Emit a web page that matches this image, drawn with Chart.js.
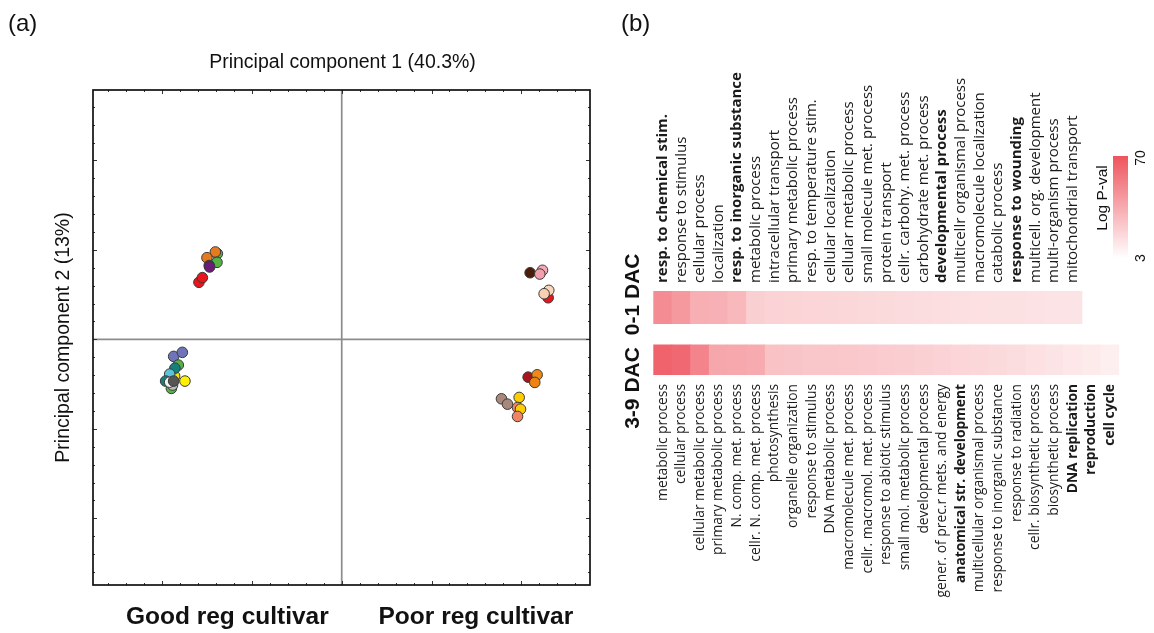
<!DOCTYPE html>
<html><head><meta charset="utf-8">
<script src="https://cdn.jsdelivr.net/npm/chart.js@4.4.0/dist/chart.umd.min.js"></script>
<style>
html,body{margin:0;padding:0;background:#fff;}
#wrap{position:relative;width:1154px;height:633px;overflow:hidden;}
canvas{position:absolute;left:0;top:0;}
</style></head><body>
<div id="wrap"><canvas id="pca" width="1154" height="633"></canvas><canvas id="heat" width="1154" height="633"></canvas></div>
<script>
// ---------------- DATA ----------------
// Panel (a): PCA scores
const goodEarlyPC1 = [-1.385, -1.407, -1.501, -1.389, -1.476, -1.471, -1.590, -1.552];
const goodEarlyPC2 = [0.958, 0.977, 0.913, 0.861, 0.825, 0.809, 0.638, 0.690];
const goodLatePC1 = [-1.872, -1.775, -1.861, -1.820, -1.858, -1.916, -1.897, -1.961, -1.884, -1.916, -1.872, -1.746];
const goodLatePC2 = [-0.190, -0.145, -0.410, -0.287, -0.322, -0.388, -0.548, -0.466, -0.510, -0.478, -0.466, -0.466];
const poorEarlyPC1 = [2.098, 2.236, 2.206, 2.299, 2.306, 2.254];
const poorEarlyPC2 = [0.745, 0.772, 0.730, 0.465, 0.548, 0.510];
const poorLatePC1 = [2.076, 2.176, 2.150, 1.779, 1.846, 1.976, 1.958, 1.991, 1.958];
const poorLatePC2 = [-0.422, -0.396, -0.481, -0.664, -0.724, -0.649, -0.761, -0.780, -0.861];

// Panel (b): enriched GO terms and log P-values
const earlyTerms = ["resp. to chemical stim.","response to stimulus","cellular process","localization","resp. to inorganic substance","metabolic process","intracellular transport","primary metabolic process","resp. to temperature stim.","cellular localization","cellular metabolic process","small molecule met. process","protein transport","cellr. carbohy. met. process","carbohydrate met. process","developmental process","multicellr organismal process","macromolecule localization","catabolic process","response to wounding","multicell. org. development","multi-organism process","mitochondrial transport"];
const earlyLogP = [48, 43, 34.5, 33.5, 31, 22, 20.5, 20, 19.5, 19, 18.5, 18, 17.5, 17, 16.5, 16, 15.5, 15.2, 14.9, 14.6, 14.3, 14, 13.6];
const lateTerms = ["metabolic process","cellular process","cellular metabolic process","primary metabolic process","N. comp. met. process","cellr. N. comp. met. process","photosynthesis","organelle organization","response to stimulus","DNA metabolic process","macromolecule met. process","cellr. macromol. met. process","response to abiotic stimulus","small mol. metabolic process","developmental process","gener. of prec.r mets. and energy","anatomical str. development","multicellular organismal process","response to inorganic substance","response to radiation","cellr. biosynthetic process","biosynthetic process","DNA replication","reproduction","cell cycle"];
const lateLogP = [64, 62, 51, 37.5, 37, 36.5, 27, 26, 25.5, 25, 24.5, 24, 23, 22.5, 21.5, 20.5, 19.5, 18.5, 17.5, 16.5, 15, 14, 12.5, 11, 9.5];
const rowNames = ["0-1 DAC", "3-9 DAC"];
const legendTicks = [3, 70];

// ---------------- STYLES ----------------
const goodEarlyColors = ["#55b346","#e57a1e","#e57a1e","#55b346","#6e1a78","#6e1a78","#e8161c","#e8161c"];
const goodLateColors = ["#6f74b8","#6f74b8","#f5e400","#55b346","#16807c","#5cc3d8","#55b346","#16807c","#bdbdbd","#f2f2f2","#555555","#fff000"];
const poorEarlyColors = ["#4a1d0a","#f4a9b4","#f2a0ad","#e8141c","#fcd6b8","#fbd0b0"];
const poorLateColors = ["#a8141c","#f08a12","#ee8410","#a8887a","#a8887a","#ffcc00","#f08462","#ffcc00","#f08462"];
const earlyBold = [0, 4, 15, 19];
const lateBold = [16, 22, 23, 24];
const HOT = [238, 84, 94];
const FONT_LBL = "'Open Sans', sans-serif";
const FONT_MAIN = "'Liberation Sans', Arial, sans-serif";
const TOP_SIZE = 15, BOT_SIZE = 13.8;

function heatColor(v){
  const t = Math.max(0, Math.min(1, (v - legendTicks[0]) / (legendTicks[1] - legendTicks[0])));
  const c = HOT.map(h => Math.round(255 + (h - 255) * t));
  return 'rgb(' + c.join(',') + ')';
}
function pts(a, b){ return a.map((v, i) => ({x: v, y: b[i]})); }

// ---------------- PANEL (a) ----------------
const pcaDecor = {
  id: 'pcaDecor',
  beforeDatasetsDraw(chart){
    const {ctx, chartArea: a, scales: {x, y}} = chart;
    ctx.save();
    const x0 = x.getPixelForValue(0), y0 = y.getPixelForValue(0);
    ctx.strokeStyle = '#8c8c8c'; ctx.lineWidth = 1.7;
    ctx.beginPath();
    ctx.moveTo(x0, a.top); ctx.lineTo(x0, a.bottom);
    ctx.moveTo(a.left, y0); ctx.lineTo(a.right, y0);
    ctx.stroke();
    ctx.strokeStyle = '#333'; ctx.lineWidth = 1;
    ctx.beginPath();
    for (let k = -14; k <= 14; k++){
      const v = k * 0.2;
      const len = (k % 5 === 0) ? 4 : 2;
      if (v > x.min && v < x.max){
        const px = Math.round(x.getPixelForValue(v)) + 0.5;
        ctx.moveTo(px, a.top); ctx.lineTo(px, a.top + len);
        ctx.moveTo(px, a.bottom); ctx.lineTo(px, a.bottom - len);
      }
      if (v > y.min && v < y.max){
        const py = Math.round(y.getPixelForValue(v)) + 0.5;
        ctx.moveTo(a.left, py); ctx.lineTo(a.left + len, py);
        ctx.moveTo(a.right, py); ctx.lineTo(a.right - len, py);
      }
    }
    ctx.stroke();
    ctx.strokeStyle = '#111'; ctx.lineWidth = 1.7;
    ctx.strokeRect(a.left, a.top, a.right - a.left, a.bottom - a.top);
    ctx.restore();
  },
  afterDraw(chart){
    const {ctx, chartArea: a, scales: {x}} = chart;
    ctx.save();
    ctx.fillStyle = '#111';
    ctx.textBaseline = 'middle';
    ctx.textAlign = 'center';
    ctx.font = '19.5px ' + FONT_MAIN;
    ctx.fillText('Principal component 1 (40.3%)', (a.left + a.right) / 2 + 1, 63);
    ctx.save();
    ctx.translate(64, (a.top + a.bottom) / 2);
    ctx.rotate(-Math.PI / 2);
    ctx.fillText('Principal component 2 (13%)', 0, 0);
    ctx.restore();
    ctx.font = 'bold 24.5px ' + FONT_MAIN;
    ctx.fillText('Good reg cultivar', (a.left + x.getPixelForValue(0)) / 2 + 10, 617);
    ctx.fillText('Poor reg cultivar', (a.right + x.getPixelForValue(0)) / 2 + 10, 617);
    ctx.font = '24px ' + FONT_MAIN;
    ctx.textAlign = 'left';
    ctx.fillText('(a)', 8, 24);
    ctx.fillText('(b)', 621, 24);
    ctx.restore();
  }
};

function ds(px, py, colors){
  return {data: pts(px, py), backgroundColor: colors, borderColor: '#3a3a3a', borderWidth: 1, pointRadius: 5.3};
}

new Chart(document.getElementById('pca'), {
  type: 'scatter',
  data: {datasets: [
    ds(goodEarlyPC1, goodEarlyPC2, goodEarlyColors),
    ds(goodLatePC1, goodLatePC2, goodLateColors),
    ds(poorEarlyPC1, poorEarlyPC2, poorEarlyColors),
    ds(poorLatePC1, poorLatePC2, poorLateColors)
  ]},
  options: {
    responsive: false, animation: false, events: [],
    layout: {padding: {left: 93, right: 564, top: 90, bottom: 48}},
    scales: {
      x: {type: 'linear', min: -2.77, max: 2.765, display: false},
      y: {type: 'linear', min: -2.745, max: 2.787, display: false}
    },
    plugins: {legend: {display: false}, tooltip: {enabled: false}}
  },
  plugins: [pcaDecor]
});

// ---------------- PANEL (b) ----------------
const ROW_SPAN = [[0, 1], [1.65, 2.57]];
const topLabels = lateTerms.map((_, i) => earlyTerms[i] !== undefined ? earlyTerms[i] : '');

const heatDecor = {
  id: 'heatDecor',
  afterDraw(chart){
    const {ctx, scales: {y}} = chart;
    ctx.save();
    ctx.fillStyle = '#111';
    ctx.textAlign = 'center'; ctx.textBaseline = 'middle';
    ctx.font = 'bold 21px ' + FONT_MAIN;
    const rowOffsets = [-13, 28];
    rowNames.forEach((n, i) => {
      const cy = (y.getPixelForValue(ROW_SPAN[i][0]) + y.getPixelForValue(ROW_SPAN[i][1])) / 2 + rowOffsets[i];
      ctx.save(); ctx.translate(633, cy); ctx.rotate(-Math.PI / 2); ctx.fillText(n, 0, 0); ctx.restore();
    });
    // colour legend
    const lx = 1113, lw = 15, ly0 = 156, ly1 = 258;
    const g = ctx.createLinearGradient(0, ly0, 0, ly1);
    g.addColorStop(0, heatColor(legendTicks[1]));
    g.addColorStop(1, heatColor(legendTicks[0]));
    ctx.fillStyle = g;
    ctx.fillRect(lx, ly0, lw, ly1 - ly0);
    ctx.fillStyle = '#111';
    ctx.font = '14px ' + FONT_MAIN;
    ctx.save(); ctx.translate(1141, ly0 + 2); ctx.rotate(-Math.PI / 2); ctx.fillText(String(legendTicks[1]), 0, 0); ctx.restore();
    ctx.save(); ctx.translate(1141, ly1); ctx.rotate(-Math.PI / 2); ctx.fillText(String(legendTicks[0]), 0, 0); ctx.restore();
    ctx.font = '15.5px ' + FONT_MAIN;
    ctx.save(); ctx.translate(1103, 198); ctx.rotate(-Math.PI / 2); ctx.fillText('Log P-val', 0, 0); ctx.restore();
    ctx.restore();
  }
};

new Chart(document.getElementById('heat'), {
  type: 'bar',
  data: {
    labels: lateTerms,
    datasets: [
      {data: earlyLogP.map(() => ROW_SPAN[0]), backgroundColor: earlyLogP.map(heatColor), borderWidth: 0,
       barPercentage: 1, categoryPercentage: 1, grouped: false},
      {data: lateLogP.map(() => ROW_SPAN[1]), backgroundColor: lateLogP.map(heatColor), borderWidth: 0,
       barPercentage: 1, categoryPercentage: 1, grouped: false}
    ]
  },
  options: {
    responsive: false, animation: false, events: [],
    layout: {padding: {left: 653.3, right: 34.7, top: 0, bottom: 0}},
    scales: {
      x: {
        type: 'category', position: 'bottom', labels: lateTerms,
        grid: {display: false, drawTicks: false}, border: {display: false},
        ticks: {autoSkip: false, minRotation: 90, maxRotation: 90, padding: 9, color: '#1a1a1a',
          font: c => ({family: FONT_LBL, size: BOT_SIZE, weight: lateBold.includes(c.index) ? 'bold' : 'normal'})},
        afterFit: s => { s.height = 258; }
      },
      x2: {
        type: 'category', position: 'top', labels: topLabels,
        grid: {display: false, drawTicks: false}, border: {display: false},
        ticks: {autoSkip: false, minRotation: 90, maxRotation: 90, padding: 8, color: '#1a1a1a',
          labelOffset: TOP_SIZE * 1.2,
          font: c => ({family: FONT_LBL, size: TOP_SIZE, weight: earlyBold.includes(c.index) ? 'bold' : 'normal'})},
        afterFit: s => { s.height = 291; }
      },
      y: {type: 'linear', min: 0, max: 2.57, reverse: true, display: false}
    },
    plugins: {legend: {display: false}, tooltip: {enabled: false}}
  },
  plugins: [heatDecor]
});
</script>
</body></html>
